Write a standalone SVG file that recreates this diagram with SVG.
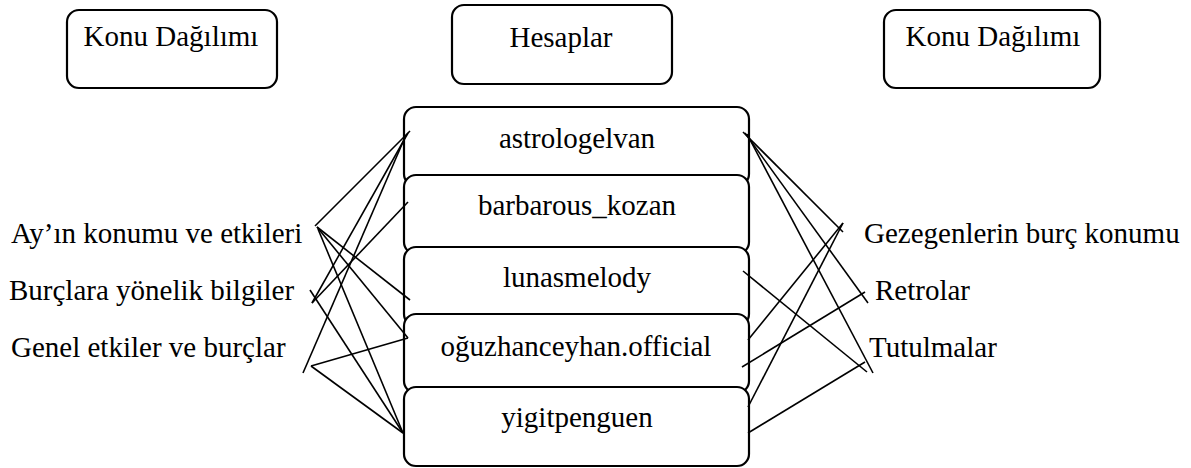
<svg xmlns="http://www.w3.org/2000/svg" width="1191" height="468" viewBox="0 0 1191 468">
<style>
.box{fill:#fff;stroke:#000;stroke-width:2.2}
.t{font-family:'Liberation Serif','Times New Roman',serif;font-size:29px;fill:#000}
.c{text-anchor:middle}
.ln line{stroke:#000;stroke-width:1.6}
</style>
<rect width="1191" height="468" fill="#fff"/>
<g id="hdr-left"><rect class="box" x="67" y="10" width="210" height="78" rx="12"/><text class="t c" x="171" y="46">Konu Dağılımı</text></g>
<g id="hdr-mid"><rect class="box" x="452" y="5" width="220" height="79" rx="12"/><text class="t c" x="561" y="47">Hesaplar</text></g>
<g id="hdr-right"><rect class="box" x="884" y="10" width="216" height="78" rx="12"/><text class="t c" x="993" y="46">Konu Dağılımı</text></g>
<g id="acc1"><rect class="box" x="404" y="107" width="345" height="79" rx="12"/><text class="t c" x="577" y="148">astrologelvan</text></g>
<g id="acc2"><rect class="box" x="404" y="175" width="345" height="79" rx="12"/><text class="t c" x="577" y="215">barbarous_kozan</text></g>
<g id="acc3"><rect class="box" x="404" y="247" width="345" height="79" rx="12"/><text class="t c" x="577" y="287">lunasmelody</text></g>
<g id="acc4"><rect class="box" x="404" y="314" width="345" height="79" rx="12"/><text class="t c" x="576" y="356">oğuzhanceyhan.official</text></g>
<g id="acc5"><rect class="box" x="404" y="387" width="345" height="79" rx="12"/><text class="t c" x="577" y="427">yigitpenguen</text></g>
<g id="topic-l1"><text class="t" x="11" y="243">Ay’ın konumu ve etkileri</text></g>
<g id="topic-l2"><text class="t" x="9" y="300">Burçlara yönelik bilgiler</text></g>
<g id="topic-l3"><text class="t" x="11" y="357">Genel etkiler ve burçlar</text></g>
<g id="topic-r1"><text class="t" x="864" y="243">Gezegenlerin burç konumu</text></g>
<g id="topic-r2"><text class="t" x="875" y="300">Retrolar</text></g>
<g id="topic-r3"><text class="t" x="869" y="357">Tutulmalar</text></g>
<g id="connectors" class="ln">
<line x1="410" y1="131" x2="315" y2="226"/>
<line x1="408" y1="133" x2="312" y2="303"/>
<line x1="406" y1="135" x2="303" y2="373"/>
<line x1="408" y1="202" x2="312" y2="303"/>
<line x1="317" y1="227" x2="410" y2="300"/>
<line x1="317" y1="227" x2="408" y2="338"/>
<line x1="318" y1="229" x2="403" y2="433"/>
<line x1="310" y1="290" x2="403" y2="433"/>
<line x1="311" y1="366" x2="408" y2="338"/>
<line x1="311" y1="366" x2="403" y2="433"/>
<line x1="743" y1="132" x2="843" y2="232"/>
<line x1="745" y1="133" x2="868" y2="303"/>
<line x1="747" y1="134" x2="873" y2="373"/>
<line x1="743" y1="271" x2="867" y2="372"/>
<line x1="748" y1="340" x2="843" y2="223"/>
<line x1="742" y1="367" x2="865" y2="292"/>
<line x1="748" y1="407" x2="843" y2="223"/>
<line x1="748" y1="433" x2="865" y2="362"/>
</g>
</svg>
